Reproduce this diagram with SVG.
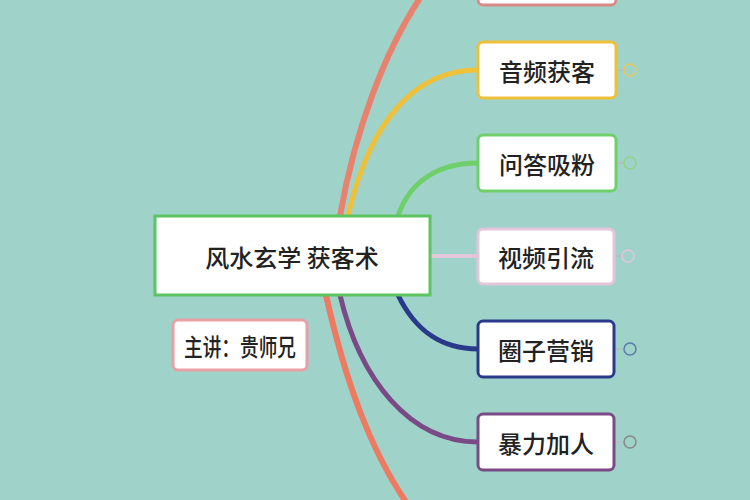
<svg xmlns="http://www.w3.org/2000/svg" width="750" height="500" viewBox="0 0 750 500">
<style>
.b{fill:#fff;stroke-width:3}
.t{font-family:"Noto Sans CJK SC",sans-serif;font-size:24px;font-weight:500;fill:#222;text-anchor:middle;dominant-baseline:central}
.c{fill:none;stroke-linecap:round}
.k{fill:none;stroke-width:1.5}
</style>
<rect width="750" height="500" fill="#9fd3c9"/>
<g id="connectors">
<path class="c" d="M340,216 C355,130 385,50 422,-5" stroke="#e8826e" stroke-width="6"/>
<path class="c" d="M326,295 C345,380 370,450 408,505" stroke="#ee7a62" stroke-width="6"/>
<path class="c" d="M348,216 C370,120 415,70 478,70" stroke="#efc03a" stroke-width="5"/>
<path class="c" d="M398,216 C410,180 440,163 478,163" stroke="#6fcf6a" stroke-width="5"/>
<path class="c" d="M430,256 L478,256" stroke="#e3c6da" stroke-width="4"/>
<path class="c" d="M398,295 C415,330 440,349 478,349" stroke="#2a3a8a" stroke-width="5"/>
<path class="c" d="M340,295 C360,380 410,442 478,442" stroke="#7a4a86" stroke-width="5"/>
<path d="M616,70 H624 M616,163 H624 M614,256 H622 M614,349 H622 M614,442 H622" stroke="#bbb" stroke-width="1.5"/>
</g>
<g id="n0"><rect class="b" x="478" y="-20" width="138" height="25" rx="5" stroke="#d98a88"/></g>
<g id="n1"><rect class="b" x="478" y="42" width="138" height="56" rx="5" stroke="#efc03a"/><text class="t" x="547" y="70">音频获客</text><circle class="k" cx="630" cy="70" r="6" stroke="#e6c95a"/></g>
<g id="n2"><rect class="b" x="478" y="135" width="138" height="56" rx="5" stroke="#6fcf6a"/><text class="t" x="547" y="163">问答吸粉</text><circle class="k" cx="630" cy="163" r="6" stroke="#8fd38a"/></g>
<g id="n3"><rect class="b" x="478" y="229" width="136" height="55" rx="5" stroke="#e3c6da"/><text class="t" x="546" y="256">视频引流</text><circle class="k" cx="628" cy="256" r="6" stroke="#e3c6da"/></g>
<g id="n4"><rect class="b" x="478" y="321" width="136" height="56" rx="5" stroke="#2a3a8a"/><text class="t" x="546" y="349">圈子营销</text><circle class="k" cx="630" cy="349" r="6" stroke="#5a7aaa"/></g>
<g id="n5"><rect class="b" x="478" y="414" width="136" height="56" rx="5" stroke="#7a4a86"/><text class="t" x="546" y="442">暴力加人</text><circle class="k" cx="630" cy="442" r="6" stroke="#888"/></g>
<g id="center"><rect class="b" x="155" y="216" width="275" height="79" stroke="#5cc460"/><text class="t" x="292" y="256" font-size="28">风水玄学 获客术</text></g>
<g id="speaker"><rect class="b" x="173" y="320" width="134" height="50" rx="5" stroke="#e8a0a6" stroke-width="2"/><text class="t" x="240" y="345" font-size="16" textLength="112" lengthAdjust="spacingAndGlyphs">主讲：贵师兄</text></g>
</svg>
